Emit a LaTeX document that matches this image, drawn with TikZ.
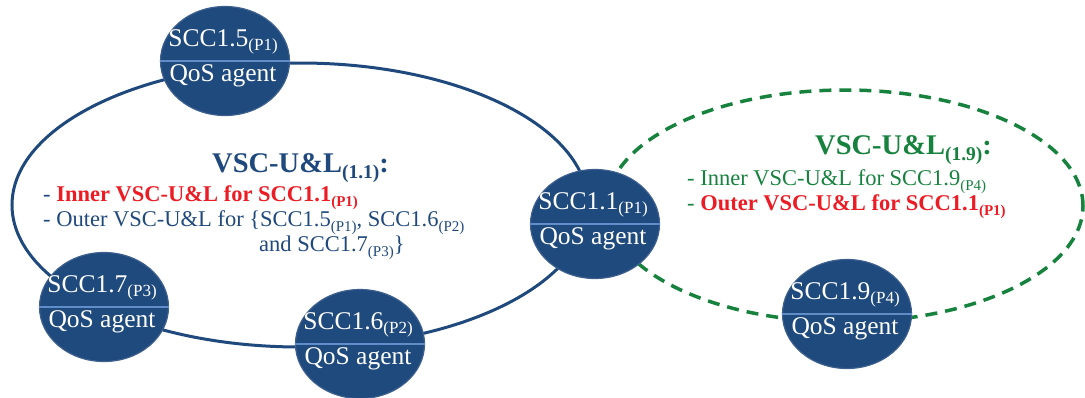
\documentclass[tikz,border=0pt]{standalone}
\usepackage{fontspec}
\setmainfont{Liberation Serif}
\usetikzlibrary{shapes.geometric}
\definecolor{nodefill}{RGB}{31,74,125}
\definecolor{nodeedge}{RGB}{62,96,142}
\definecolor{divline}{RGB}{96,140,200}
\definecolor{ringblue}{RGB}{31,73,125}
\definecolor{grn}{RGB}{22,130,62}
\definecolor{redt}{RGB}{235,28,36}
\definecolor{bluet}{RGB}{31,73,125}
\newcommand{\nsub}[1]{\raisebox{-4.5pt}{\fontsize{17}{17}\selectfont #1}}
\newcommand{\tsub}[1]{\raisebox{-5pt}{\fontsize{15}{15}\selectfont #1}}
\newcommand{\hsub}[1]{\raisebox{-6pt}{\fontsize{19.5}{19.5}\selectfont #1}}
\tikzset{
  scc/.style={ellipse, fill=nodefill, draw=nodeedge, line width=1.2pt,
    minimum width=129pt, minimum height=109pt, inner sep=0pt},
  divider/.style={draw=divline, line width=2.5pt},
  ntext/.style={text=white, font=\fontsize{25.5}{25.5}\selectfont, anchor=base, inner sep=0pt},
  ring/.style={draw=ringblue, line width=3pt},
  greenring/.style={draw=grn, line width=3.5pt, dash pattern=on 12pt off 8pt},
  titletext/.style={font=\fontsize{28.5}{28.5}\selectfont\bfseries, anchor=base west, inner sep=0pt},
  bodytext/.style={font=\fontsize{22.5}{22.5}\selectfont, anchor=base west, inner sep=0pt},
}
\begin{document}
\begin{tikzpicture}[x=1pt,y=-1pt]
\useasboundingbox (0,0) rectangle (1085,397);
% rings
\draw[ring] (300,205) ellipse [x radius=288pt, y radius=142pt];
\draw[greenring] (845,206) ellipse [x radius=238pt, y radius=116pt];
% nodes
\foreach \nm/\px/\py/\lab/\sb in {n15/225/61/SCC1.5/(P1), n11/595/224/SCC1.1/(P1), n17/104/307/SCC1.7/(P3), n16/360/344/SCC1.6/(P2), n19/847/314/SCC1.9/(P4)}{
  \node[scc] (\nm) at (\px,\py) {};
  \draw[divider] (\nm.west) -- (\nm.east);
  \node[ntext] (\nm-a) at ([xshift=-2pt,yshift=15pt]\nm.center) {\lab\nsub{\sb}};
  \node[ntext] (\nm-b) at ([xshift=-2pt,yshift=-20pt]\nm.center) {QoS agent};
}
% left text block
\node[titletext, text=bluet] (lt) at (212,172) {VSC-U\&L\hsub{(1.1)}:};
\node[bodytext, text=bluet] (l1) at (43,201) {- \textcolor{redt}{\bfseries Inner VSC-U\&L for SCC1.1\tsub{(P1)}}};
\node[bodytext, text=bluet] (l2) at (43,226) {- Outer VSC-U\&L for \{SCC1.5\tsub{(P1)}, SCC1.6\tsub{(P2)}};
\node[bodytext, text=bluet] (l3) at (259,251) {and SCC1.7\tsub{(P3)}\}};
% right text block
\node[titletext, text=grn] (rt) at (815,154) {VSC-U\&L\hsub{(1.9)}:};
\node[bodytext, text=grn] (r1) at (687,185) {- Inner VSC-U\&L for SCC1.9\tsub{(P4)}};
\node[bodytext, text=grn] (r2) at (687,210) {- \textcolor{redt}{\bfseries Outer VSC-U\&L for SCC1.1\tsub{(P1)}}};
\end{tikzpicture}
\end{document}
